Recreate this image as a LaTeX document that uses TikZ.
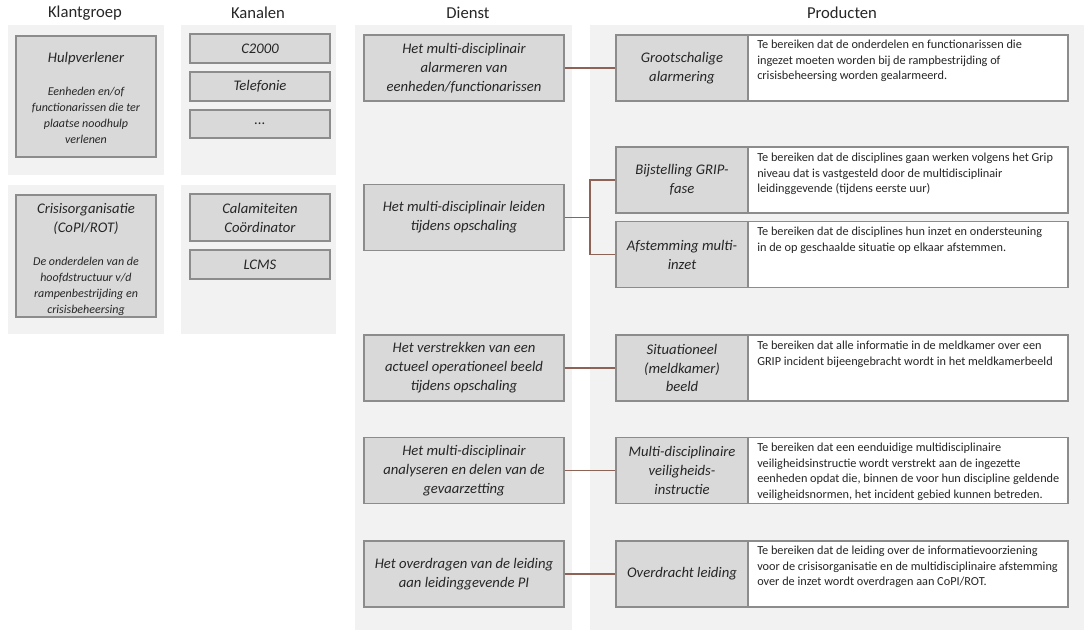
\documentclass[tikz,border=0pt]{standalone}
\usepackage{fontspec}
\setmainfont{Carlito}
\definecolor{panelgray}{HTML}{F2F2F2}
\definecolor{boxgray}{HTML}{D9D9D9}
\definecolor{bordergray}{HTML}{8C8C8C}
\definecolor{conncol}{HTML}{8F6256}
\definecolor{textc}{HTML}{262626}
\newcommand\subtxt[1]{{\fontsize{9}{12}\selectfont\begin{tabular}[t]{@{}c@{}}#1\end{tabular}}}
\begin{document}
\begin{tikzpicture}[x=0.75pt,y=-0.75pt,
  panel/.style={fill=panelgray,draw=none},
  header/.style={font=\fontsize{12.5}{15}\selectfont,text=textc,inner sep=0pt},
  gbox/.style={draw=bordergray,fill=boxgray,line width=1.1pt,align=center,inner sep=1pt,text=textc,
     font=\itshape\fontsize{11}{14.2}\selectfont},
  btext/.style={align=center,inner sep=0pt,text=textc,font=\itshape\fontsize{11}{14.2}\selectfont},
  wbox/.style={draw=bordergray,fill=white,line width=1.1pt,inner sep=0pt},
  desc/.style={align=left,inner sep=0pt,text=textc,font=\fontsize{9.2}{11.6}\selectfont},
  conn/.style={draw=conncol,line width=1.1pt}
]
\useasboundingbox (0,0) rectangle (1086,630);
% panels
\fill[panel] (8,25) rectangle (164,175);
\fill[panel] (8,185) rectangle (164,334);
\fill[panel] (181,25) rectangle (336,175);
\fill[panel] (181,185) rectangle (336,334);
\fill[panel] (355,25) rectangle (572,630);
\fill[panel] (590,25) rectangle (1084,630);
% headers
\node[header] (hk) at (85,13) {Klantgroep};
\node[header] (hc) at (258,13) {Kanalen};
\node[header] (hd) at (468,13) {Dienst};
\node[header] (hp) at (842,13) {Producten};
% klantgroep
\node[gbox,minimum width=140*0.75pt,minimum height=121*0.75pt] (k1) at (86,96.5) {};
\node[btext] (k1t) at (86,100.5)
  {Hulpverlener\\[10.5pt]\subtxt{Eenheden en/of\\functionarissen die ter\\plaatse noodhulp\\verlenen}};
\node[gbox,minimum width=140*0.75pt,minimum height=122*0.75pt] (k2) at (86,256) {};
\node[btext] (k2t) at (86,261)
  {Crisisorganisatie\\(CoPI/ROT)\\[10.5pt]\subtxt{De onderdelen van de\\hoofdstructuur v/d\\rampenbestrijding en\\crisisbeheersing}};
% kanalen
\node[gbox,minimum width=140*0.75pt,minimum height=29*0.75pt] (c1) at (260,48.5) {C2000};
\node[gbox,minimum width=140*0.75pt,minimum height=29*0.75pt] (c2) at (260,86.5) {Telefonie};
\node[gbox,minimum width=140*0.75pt,minimum height=28*0.75pt] (c3) at (260,124) {...};
\node[gbox,minimum width=140*0.75pt,minimum height=47*0.75pt] (c4) at (260,217.5) {Calamiteiten\\Coördinator};
\node[gbox,minimum width=140*0.75pt,minimum height=29*0.75pt] (c5) at (260,264.5) {LCMS};
% dienst
\node[gbox,minimum width=200*0.75pt,minimum height=66*0.75pt] (d1) at (464,68) {Het multi-disciplinair\\alarmeren van\\eenheden/functionarissen};
\node[gbox,minimum width=200*0.75pt,minimum height=66*0.75pt] (d2) at (464,217.5) {Het multi-disciplinair leiden\\tijdens opschaling};
\node[gbox,minimum width=200*0.75pt,minimum height=66*0.75pt] (d3) at (464,368) {Het verstrekken van een\\actueel operationeel beeld\\tijdens opschaling};
\node[gbox,minimum width=200*0.75pt,minimum height=66*0.75pt] (d4) at (464,470.5) {Het multi-disciplinair\\analyseren en delen van de\\gevaarzetting};
\node[gbox,minimum width=200*0.75pt,minimum height=66*0.75pt] (d5) at (464,574) {Het overdragen van de leiding\\aan leidinggevende PI};
% producten: white description boxes
\node[wbox,minimum width=320*0.75pt,minimum height=66*0.75pt] (p1d) at (908,68) {};
\node[wbox,minimum width=320*0.75pt,minimum height=66*0.75pt] (p2d) at (908,180) {};
\node[wbox,minimum width=320*0.75pt,minimum height=66*0.75pt] (p3d) at (908,254.5) {};
\node[wbox,minimum width=320*0.75pt,minimum height=66*0.75pt] (p4d) at (908,368) {};
\node[wbox,minimum width=320*0.75pt,minimum height=66*0.75pt] (p5d) at (908,470.5) {};
\node[wbox,minimum width=320*0.75pt,minimum height=66*0.75pt] (p6d) at (908,574) {};
% producten: gray labels
\node[gbox,minimum width=132*0.75pt,minimum height=66*0.75pt] (p1) at (682,68) {Grootschalige\\alarmering};
\node[gbox,minimum width=132*0.75pt,minimum height=66*0.75pt] (p2) at (682,180) {Bijstelling GRIP-\\fase};
\node[gbox,minimum width=132*0.75pt,minimum height=66*0.75pt] (p3) at (682,254.5) {Afstemming multi-\\inzet};
\node[gbox,minimum width=132*0.75pt,minimum height=66*0.75pt] (p4) at (682,368) {Situationeel\\(meldkamer)\\beeld};
\node[gbox,minimum width=132*0.75pt,minimum height=66*0.75pt] (p5) at (682,470.5) {Multi-disciplinaire\\veiligheids-\\instructie};
\node[gbox,minimum width=132*0.75pt,minimum height=66*0.75pt] (p6) at (682,574) {Overdracht leiding};
% descriptions
\node[desc,anchor=north west] (t1) at (757,40) {Te bereiken dat de onderdelen en functionarissen die\\ingezet moeten worden bij de rampbestrijding of\\crisisbeheersing worden gealarmeerd.};
\node[desc,anchor=north west] (t2) at (757,153) {Te bereiken dat de disciplines gaan werken volgens het Grip\\niveau dat is vastgesteld door de multidisciplinair\\leidinggevende (tijdens eerste uur)};
\node[desc,anchor=north west] (t3) at (757,227) {Te bereiken dat de disciplines hun inzet en ondersteuning\\in de op geschaalde situatie op elkaar afstemmen.};
\node[desc,anchor=north west] (t4) at (757,341) {Te bereiken dat alle informatie in de meldkamer over een\\GRIP incident bijeengebracht wordt in het meldkamerbeeld};
\node[desc,anchor=north west] (t5) at (757,443) {Te bereiken dat een eenduidige multidisciplinaire\\veiligheidsinstructie wordt verstrekt aan de ingezette\\eenheden opdat die, binnen de voor hun discipline geldende\\veiligheidsnormen, het incident gebied kunnen betreden.};
\node[desc,anchor=north west] (t6) at (757,546) {Te bereiken dat de leiding over de informatievoorziening\\voor de crisisorganisatie en de multidisciplinaire afstemming\\over de inzet wordt overdragen aan CoPI/ROT.};
% connectors
\coordinate (split) at (590,217.5);
\draw[conn] (d1.east) -- (p1.west);
\draw[conn] (d2.east) -- (split);
\draw[conn] (p2.west) -| (split) |- (p3.west);
\draw[conn] (d3.east) -- (p4.west);
\draw[conn] (d4.east) -- (p5.west);
\draw[conn] (d5.east) -- (p6.west);
\end{tikzpicture}
\end{document}
